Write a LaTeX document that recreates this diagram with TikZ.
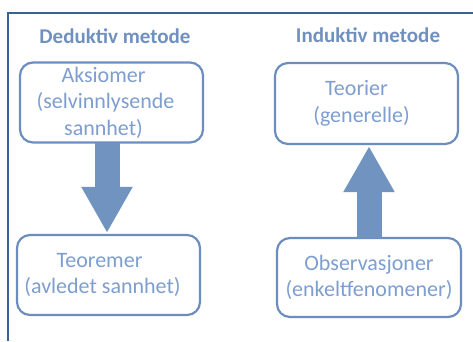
\documentclass[tikz,border=0pt]{standalone}
\usepackage{fontspec}
\setmainfont{Carlito}
\usetikzlibrary{arrows.meta,calc}
\definecolor{framec}{HTML}{3B6296}
\definecolor{boxc}{HTML}{6C8EBF}
\definecolor{textc}{HTML}{7E9ED0}
\definecolor{titlec}{HTML}{7090C0}
\definecolor{arrowc}{HTML}{7093C0}
\tikzset{
  box/.style={draw=boxc, line width=2.2pt, rounded corners=13pt, fill=white,
    text=textc, align=center, font=\fontsize{22}{26.5}\selectfont, inner sep=0pt},
  title/.style={text=titlec, font=\fontsize{21}{25}\selectfont\bfseries, inner sep=0pt},
  bigarrow/.style={draw=arrowc, line width=25pt, line cap=butt,
    -{Triangle[width=48pt,length=46pt,fill=arrowc]}},
  frameline/.style={draw=framec, line width=2pt}
}
\begin{document}
\begin{tikzpicture}[x=1pt,y=-1pt]
\useasboundingbox (0,0) rectangle (473,341);
\fill[white] (0,0) rectangle (473,341);
\draw[frameline] (8,341) -- (8,13) -- (473,13);
\node[title] (t1) at (115,36) {Deduktiv metode};
\node[title] (t2) at (368,35) {Induktiv metode};
\node[box, minimum width=183pt, minimum height=80pt] (a) at (111.5,102.5) {Aksiomer\kern16pt\\(selvinnlysende\kern12pt\\sannhet)\kern16pt};
\node[box, minimum width=183pt, minimum height=80pt] (b) at (108.5,275) {Teoremer\kern18pt\\(avledet sannhet)\kern12pt};
\node[box, minimum width=183pt, minimum height=81pt] (c) at (366.5,103.5) {Teorier\kern20pt\\(generelle)\kern10pt};
\node[box, minimum width=184pt, minimum height=79pt] (d) at (369,277.5) {Observasjoner\\(enkeltfenomener)};
\coordinate (x1) at (107,0);
\coordinate (x2) at (369,0);
\draw[bigarrow] ([yshift=1pt]x1 |- a.south) -- ([yshift=1pt]x1 |- b.north);
\draw[bigarrow] ([yshift=-1pt]x2 |- d.north) -- ([yshift=-1pt]x2 |- c.south);
\end{tikzpicture}
\end{document}
